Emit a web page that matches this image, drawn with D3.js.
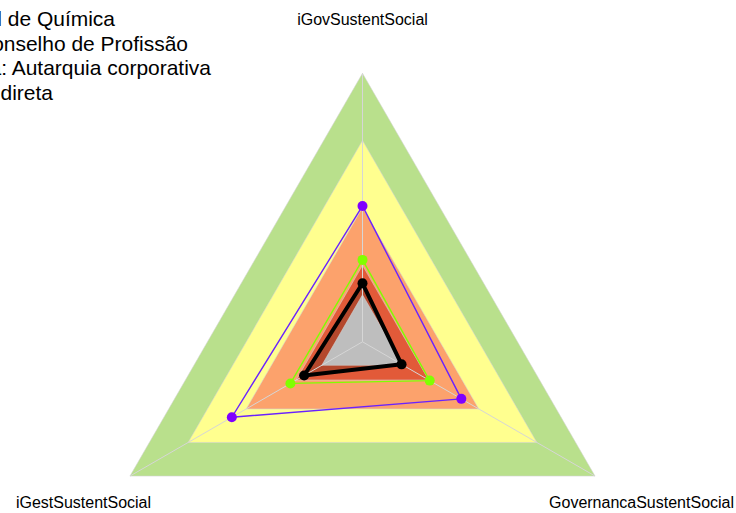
<!DOCTYPE html>
<html>
<head>
<meta charset="utf-8">
<script src="https://cdn.jsdelivr.net/npm/d3@7"></script>
<style>
  html, body { margin: 0; padding: 0; background: #ffffff; overflow: hidden; }
  svg { display: block; font-family: "Liberation Sans", Arial, sans-serif; }
</style>
</head>
<body>
<svg id="chart" width="736" height="513"></svg>
<script>
// ---- data ----
const axes = ["iGovSustentSocial", "GovernancaSustentSocial", "iGestSustentSocial"];
const seriesPurple = [0.506, 0.425, 0.562];
const seriesGreen  = [0.305, 0.289, 0.310];
const seriesBlack  = [0.218, 0.168, 0.251];
const bandLevels = [1.0, 0.75, 0.5, 0.285, 0.175];
const bandColors = ["#b9e08c", "#ffff8f", "#fca26c", "#e25a39", "#bebebe"];
const titleLines = [
  "Conselho Regional de Química",
  "Tipo: Conselho de Profissão",
  "Natureza: Autarquia corporativa",
  "Administração indireta"
];

// ---- layout ----
const svg = d3.select("#chart");
const cx = 362.5, cy = 341.8, R = 268.5;
const r = d3.scaleLinear().domain([0, 1]).range([0, R]);
const ang = d3.scaleLinear().domain([0, axes.length]).range([0, 2 * Math.PI]);

const g = svg.append("g").attr("transform", `translate(${cx},${cy})`);

const radial = d3.lineRadial()
  .angle((d, i) => ang(i))
  .radius(d => r(d))
  .curve(d3.curveLinearClosed);

function band(level) { return axes.map(() => level); }

bandLevels.slice(0, 4).forEach((lv, k) => {
  g.append("path")
    .attr("d", radial(band(lv)))
    .attr("fill", bandColors[k])
    .attr("stroke", "#d4d4d4")
    .attr("stroke-opacity", 0.7)
    .attr("stroke-width", 0.8);
});

g.append("path")
  .attr("d", radial(seriesBlack))
  .attr("fill", "rgba(0,0,0,0.2)")
  .attr("stroke", "none");

g.append("path")
  .attr("d", radial(band(bandLevels[4])))
  .attr("fill", bandColors[4])
  .attr("stroke", "#d4d4d4")
  .attr("stroke-opacity", 0.7)
  .attr("stroke-width", 0.8);

axes.forEach((a, i) => {
  const p = d3.pointRadial(ang(i), r(1));
  g.append("line")
    .attr("x1", 0).attr("y1", 0)
    .attr("x2", p[0]).attr("y2", p[1])
    .attr("stroke", "#d6d6d6")
    .attr("stroke-width", 1);
});

function drawSeries(vals, lineColor, dotColor, width, dotR) {
  g.append("path")
    .attr("d", radial(vals))
    .attr("fill", "none")
    .attr("stroke", lineColor)
    .attr("stroke-width", width)
    .attr("stroke-linejoin", "round");
  g.selectAll(null).data(vals).enter().append("circle")
    .attr("cx", (d, i) => d3.pointRadial(ang(i), r(d))[0])
    .attr("cy", (d, i) => d3.pointRadial(ang(i), r(d))[1])
    .attr("r", dotR)
    .attr("fill", dotColor);
}
drawSeries(seriesPurple, "#6a22ff", "#7f00ff", 1.4, 5);
drawSeries(seriesGreen, "#80ff00", "#80ff00", 1.4, 5);
drawSeries(seriesBlack, "#000000", "#000000", 4, 5);

axes.forEach((a, i) => {
  const p = d3.pointRadial(ang(i), r(1.2));
  g.append("text")
    .attr("x", p[0]).attr("y", p[1])
    .attr("text-anchor", "middle")
    .attr("dominant-baseline", "central")
    .attr("font-size", 16)
    .attr("fill", "#000")
    .text(a);
});

// title block, partly beyond the left edge as in the reference
// size the font so the visible part ": Autarquia corporativa" spans ~210px
const probe = svg.append("text").attr("font-size", 20).text(": Autarquia corporativa");
const w20 = probe.node().getComputedTextLength();
probe.remove();
const titleSize = 20 * 210 / w20;
const titleRight = [115, 188, 211, 53];
const titleBase = [26, 50.5, 75, 100];
titleLines.forEach((t, i) => {
  svg.append("text")
    .attr("x", titleRight[i]).attr("y", titleBase[i])
    .attr("text-anchor", "end")
    .attr("font-size", titleSize)
    .attr("fill", "#000")
    .text(t);
});
</script>
</body>
</html>
